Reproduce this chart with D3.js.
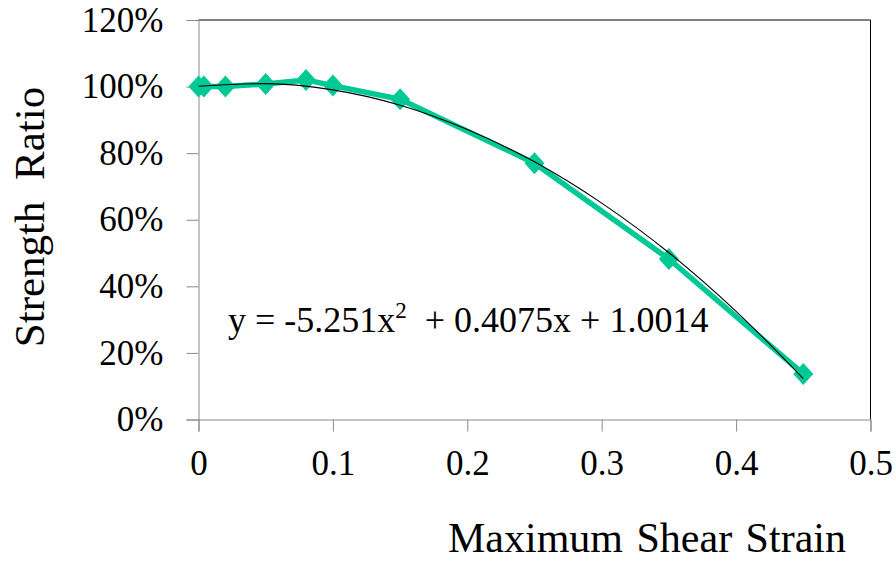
<!DOCTYPE html>
<html>
<head>
  <script src="https://d3js.org/d3.v7.min.js"></script>
  <style>
    body { margin: 0; background: #fff; }
    svg text { font-family: Tinos, "Liberation Serif", "Times New Roman", serif; fill: #000; }
  </style>
</head>
<body>
  <svg width="896" height="561"></svg>
  <script>
    // measured points
    const strain = [0, 0.004, 0.02, 0.05, 0.08, 0.1, 0.15, 0.25, 0.35, 0.45];
    const ratio = [1.0, 1.0, 1.0, 1.008, 1.02, 1.003, 0.962, 0.77, 0.482, 0.137];

    // trendline
    const trendX = [0, 0.05, 0.1, 0.15, 0.2, 0.25, 0.3, 0.35, 0.4, 0.45];
    const trendY = [1.001, 1.009, 0.990, 0.944, 0.871, 0.774, 0.650, 0.501, 0.325, 0.123];

    const xTicks = [0, 0.1, 0.2, 0.3, 0.4, 0.5];
    const yTicks = [0, 0.2, 0.4, 0.6, 0.8, 1.0, 1.2];

    const serif = 'Tinos, "Liberation Serif", serif';
    const svg = d3.select("svg");
    const pl = 198.5, pr = 870.5, pt = 20, pb = 419.5;

    const x = d3.scaleLinear().domain([0, 0.5]).range([pl, pr]);
    const y = d3.scaleLinear().domain([0, 1.2]).range([pb, pt]);

    // top & right frame
    svg.append("path")
      .attr("d", `M${pl},${pt}H${pr}V${pb}`)
      .attr("fill", "none").attr("stroke", "#000").attr("stroke-width", 1);

    const yAxis = svg.append("g")
      .attr("transform", `translate(${pl},0)`)
      .call(d3.axisLeft(y).tickValues(yTicks).tickSize(12).tickPadding(23)
        .tickFormat(d => Math.round(d * 100) + "%"));
    const xAxis = svg.append("g")
      .attr("transform", `translate(0,${pb})`)
      .call(d3.axisBottom(x).tickValues(xTicks).tickSize(12).tickPadding(19)
        .tickFormat(d => d === 0 ? "0" : d3.format(".1f")(d)));

    [xAxis, yAxis].forEach(a => {
      a.attr("font-family", serif);
      a.select(".domain").attr("stroke", "#8a8a8a");
      a.selectAll(".tick line").attr("stroke", "#8a8a8a");
      a.selectAll(".tick text")
        .style("font-family", serif)
        .style("font-size", "35px").attr("fill", "#000");
    });

    const pts = strain.map((s, i) => [s, ratio[i]]);

    svg.append("path")
      .datum(pts)
      .attr("fill", "none")
      .attr("stroke", "#00c996")
      .attr("stroke-width", 5.5)
      .attr("stroke-linejoin", "round")
      .attr("d", d3.line().x(d => x(d[0])).y(d => y(d[1])));

    svg.selectAll(".mk")
      .data(pts)
      .enter().append("path")
      .attr("class", "mk")
      .attr("transform", d => `translate(${x(d[0])},${y(d[1])})`)
      .attr("d", "M0,-11L10,0L0,11L-10,0Z")
      .attr("fill", "#00c996");

    svg.append("path")
      .datum(trendX.map((t, i) => [t, trendY[i]]))
      .attr("fill", "none")
      .attr("stroke", "#000")
      .attr("stroke-width", 1.1)
      .attr("d", d3.line().curve(d3.curveMonotoneX).x(d => x(d[0])).y(d => y(d[1])));

    // equation label
    const eq = svg.append("text").attr("x", 228).attr("y", 332)
      .style("font-size", "36px").style("white-space", "pre");
    eq.append("tspan").text("y = -5.251x");
    eq.append("tspan").attr("dy", -14).style("font-size", "23px").text("2");
    eq.append("tspan").attr("dy", 14).text("  + 0.4075x + 1.0014");

    svg.append("text")
      .attr("transform", "translate(44,217) rotate(-90)")
      .attr("text-anchor", "middle")
      .style("font-size", "43px")
      .style("white-space", "pre")
      .text("Strength  Ratio");

    svg.append("text")
      .attr("x", 448).attr("y", 552)
      .style("font-size", "42px")
      .style("word-spacing", "3px")
      .text("Maximum Shear Strain");
  </script>
</body>
</html>
